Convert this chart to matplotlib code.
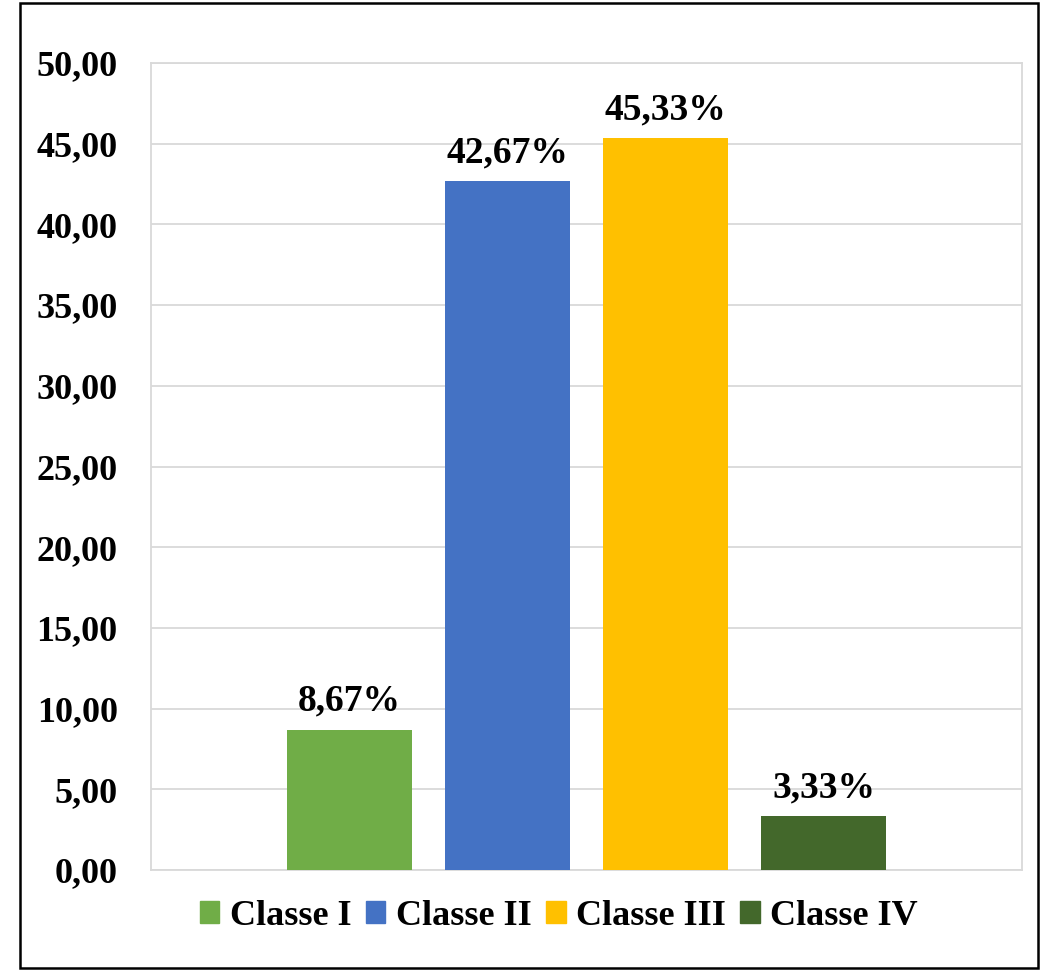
import matplotlib.pyplot as plt
from matplotlib.patches import Rectangle, Patch

categories = ['Classe I', 'Classe II', 'Classe III', 'Classe IV']
values = [8.67, 42.67, 45.33, 3.33]
labels = ['8,67%', '42,67%', '45,33%', '3,33%']
colors = ['#70AD47', '#4472C4', '#FFC000', '#43682B']
yticks = [0, 5, 10, 15, 20, 25, 30, 35, 40, 45, 50]

plt.rcParams['font.family'] = 'Liberation Serif'
plt.rcParams['font.weight'] = 'bold'

fig = plt.figure(figsize=(10.48, 9.71), dpi=100)
ax = fig.add_axes([0.1441, 0.1040, 0.8311, 0.8311])

x = list(range(len(categories)))
bars = ax.bar(x, values, width=0.791, color=colors, zorder=3)
for b, lab in zip(bars, labels):
    ax.annotate(lab, (b.get_x() + b.get_width() / 2, b.get_height()),
                xytext=(0, 8), textcoords='offset points', ha='center', va='bottom',
                fontsize=27, fontweight='bold')

ax.set_xlim(-1.256, 4.256)
ax.set_ylim(0, 50)
ax.set_yticks(yticks)
ax.set_yticklabels([f'{t:.2f}'.replace('.', ',') for t in yticks], fontsize=26, fontweight='bold')
ax.set_xticks([])
ax.tick_params(axis='y', length=0, pad=24)
ax.grid(axis='y', color='#D9D9D9', linewidth=1.3, zorder=0)
for s in ax.spines.values():
    s.set_color('#D9D9D9')
    s.set_linewidth(1.3)

handles = [Patch(color=c) for c in colors]
fig.legend(handles, categories, loc='center', bbox_to_anchor=(0.533, 0.0566), ncol=4,
           frameon=False, prop={'size': 26, 'weight': 'bold'},
           handlelength=0.55, handleheight=0.55, handletextpad=0.28, columnspacing=0.4)

fig.patches.append(Rectangle((20 / 1048, 3 / 971), 1018 / 1048, 965 / 971,
                             transform=fig.transFigure, fill=False,
                             edgecolor='black', linewidth=1.8))

fig.savefig('out.png', dpi=100)
